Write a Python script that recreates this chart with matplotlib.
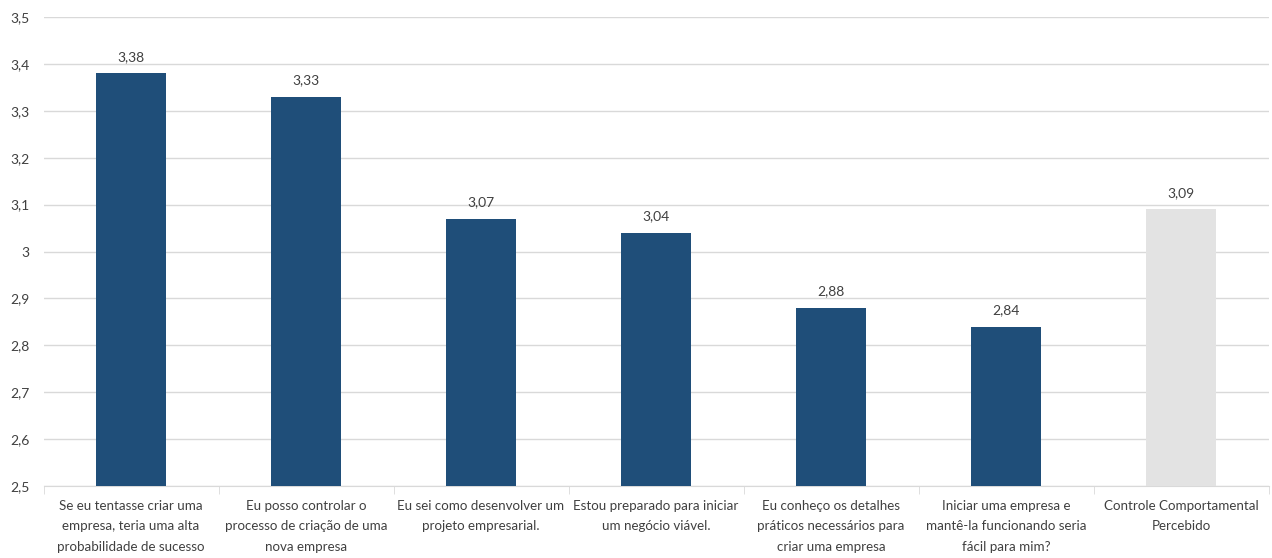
import matplotlib.pyplot as plt
from matplotlib.ticker import FixedLocator, FuncFormatter

categories = [
    "Se eu tentasse criar uma\nempresa, teria uma alta\nprobabilidade de sucesso",
    "Eu posso controlar o\nprocesso de criação de uma\nnova empresa",
    "Eu sei como desenvolver um\nprojeto empresarial.",
    "Estou preparado para iniciar\num negócio viável.",
    "Eu conheço os detalhes\npráticos necessários para\ncriar uma empresa",
    "Iniciar uma empresa e\nmantê-la funcionando seria\nfácil para mim?",
    "Controle Comportamental\nPercebido",
]
values = [3.38, 3.33, 3.07, 3.04, 2.88, 2.84, 3.09]
y_ticks = [2.5, 2.6, 2.7, 2.8, 2.9, 3.0, 3.1, 3.2, 3.3, 3.4, 3.5]

plt.rcParams["font.family"] = ["Lato", "DejaVu Sans"]

text_color = "#404040"
bar_colors = ["#1F4E79"] * (len(values) - 1) + ["#E3E3E3"]


def comma(v, _pos=None):
    s = f"{v:.2f}".rstrip("0").rstrip(".")
    return s.replace(".", ",")


fig = plt.figure(figsize=(12.72, 5.58), dpi=100)
ax = fig.add_axes([0.0342, 0.129, 0.9631, 0.8405])

x = list(range(len(values)))
bars = ax.bar(x, values, width=0.4, color=bar_colors, zorder=3)

for rect, v in zip(bars, values):
    ax.text(rect.get_x() + rect.get_width() / 2, v + 0.022, f"{v:.2f}".replace(".", ","),
            ha="center", va="bottom", fontsize=10, color=text_color)

ax.set_ylim(2.5, 3.5)
ax.set_xlim(-0.5, len(values) - 0.5)
ax.yaxis.set_major_locator(FixedLocator(y_ticks))
ax.yaxis.set_major_formatter(FuncFormatter(comma))
ax.grid(axis="y", color="#D9D9D9", linewidth=1, zorder=0)

ax.set_xticks(x)
ax.set_xticklabels(categories, fontsize=9.6, color=text_color, linespacing=1.85)
ax.tick_params(axis="x", length=0, pad=10)
ax.set_xticks([i + 0.5 for i in range(-1, len(values))], minor=True)
ax.tick_params(axis="x", which="minor", length=6, color="#D9D9D9")
ax.tick_params(axis="y", length=0, pad=10, labelsize=10, labelcolor=text_color)

for side in ["top", "right", "left"]:
    ax.spines[side].set_visible(False)
ax.spines["bottom"].set_color("#D9D9D9")

fig.savefig("out.png", dpi=100)
